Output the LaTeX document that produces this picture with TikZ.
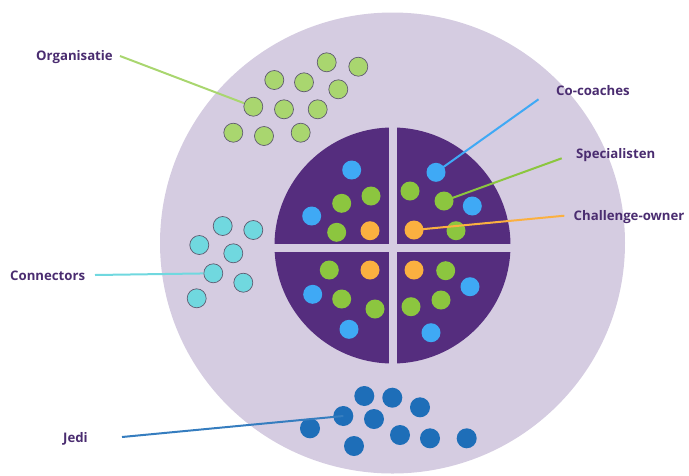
\documentclass[tikz,border=0pt]{standalone}
\usepackage{fontspec}
\setmainfont{Open Sans}
\definecolor{lav}{HTML}{D5CCE1}
\definecolor{deep}{HTML}{552D7E}
\definecolor{labc}{HTML}{4A2C70}
\definecolor{cblue}{HTML}{3FA9F5}
\definecolor{cgreen}{HTML}{8CC63F}
\definecolor{corange}{HTML}{FBB040}
\definecolor{orgc}{HTML}{A9D66F}
\definecolor{conc}{HTML}{70D8DF}
\definecolor{jedic}{HTML}{1E6EB8}
\definecolor{dotline}{HTML}{5F5A70}
\begin{document}
\begin{tikzpicture}[x=1pt,y=-1pt,
  lab/.style={anchor=base west,inner sep=0pt,text=labc,font=\fontsize{13.2}{15}\selectfont\bfseries},
  dotb/.style={circle,inner sep=0pt,minimum size=19pt},
  orgdot/.style={dotb,fill=orgc,draw=dotline,line width=0.7pt},
  condot/.style={dotb,fill=conc,draw=dotline,line width=0.7pt},
  jedidot/.style={dotb,fill=jedic,minimum size=20pt},
  bdot/.style={dotb,fill=cblue},
  gdot/.style={dotb,fill=cgreen},
  odot/.style={dotb,fill=corange},
  conn/.style={line width=2pt}]
\useasboundingbox (0,0) rectangle (689,475);
\begin{scope}
\clip (0,0) rectangle (689,475);
\fill[lav] (392.5,243) ellipse [x radius=232.5pt, y radius=230.5pt];
\end{scope}
\fill[deep] (392.5,245.5) circle [radius=118pt];
\fill[lav] (270,243.5) rectangle (515,251.5);
\fill[lav] (388.5,120) rectangle (396.5,370);

% Organisatie dots
\node[orgdot] (o1) at (326.7,62.3) {};
\node[orgdot] (o2) at (358.3,66.7) {};
\node[orgdot] (o3) at (274.3,80) {};
\node[orgdot] (o4) at (304,82.3) {};
\node[orgdot] (o5) at (338.3,89.3) {};
\node[orgdot] (o6) at (253.3,106.7) {};
\node[orgdot] (o7) at (284,109.3) {};
\node[orgdot] (o8) at (317.7,109.3) {};
\node[orgdot] (o9) at (233.3,132.7) {};
\node[orgdot] (o10) at (264,136) {};
\node[orgdot] (o11) at (300.7,132.7) {};

% Connectors dots
\node[condot] (c1) at (222.7,226) {};
\node[condot] (c2) at (253.3,230) {};
\node[condot] (c3) at (199.3,245) {};
\node[condot] (c4) at (233.3,253.3) {};
\node[condot] (c5) at (213.3,273.3) {};
\node[condot] (c6) at (243.3,282.7) {};
\node[condot] (c7) at (196.7,298.3) {};

% Jedi dots
\node[jedidot] (j1) at (364.3,396) {};
\node[jedidot] (j2) at (392.3,397.7) {};
\node[jedidot] (j3) at (420,407.3) {};
\node[jedidot] (j4) at (343.3,416) {};
\node[jedidot] (j5) at (374,419) {};
\node[jedidot] (j6) at (310,428.3) {};
\node[jedidot] (j7) at (400,435) {};
\node[jedidot] (j8) at (430,438.3) {};
\node[jedidot] (j9) at (466.7,438.3) {};
\node[jedidot] (j10) at (354,446) {};

% top-left quadrant
\node[bdot] (a1) at (351.7,170) {};
\node[gdot] (a2) at (371,196) {};
\node[gdot] (a3) at (341.7,203.3) {};
\node[bdot] (a4) at (311.7,216) {};
\node[gdot] (a5) at (336.7,232.3) {};
\node[odot] (a6) at (370,230.7) {};
% top-right quadrant
\node[bdot] (b1) at (436,172.3) {};
\node[gdot] (b2) at (410,191) {};
\node[gdot] (b3) at (444,201) {};
\node[bdot] (b4) at (472.3,206) {};
\node[odot] (b5) at (414,230) {};
\node[gdot] (b6) at (456,230.7) {};
% bottom-left quadrant
\node[gdot] (d1) at (329.3,270) {};
\node[odot] (d2) at (370,270) {};
\node[bdot] (d3) at (312.7,294.3) {};
\node[gdot] (d4) at (341.7,299) {};
\node[gdot] (d5) at (375,309) {};
\node[bdot] (d6) at (349,329.3) {};
% bottom-right quadrant
\node[odot] (e1) at (414,270) {};
\node[gdot] (e2) at (445.7,270.7) {};
\node[bdot] (e3) at (470,286.7) {};
\node[gdot] (e4) at (441,300) {};
\node[gdot] (e5) at (411,306.7) {};
\node[bdot] (e6) at (431,332.7) {};

% labels
\node[lab] (lorg) at (36,60) {Organisatie};
\node[lab] (lcon) at (10,280) {Connectors};
\node[lab] (ljedi) at (63,442) {Jedi};
\node[lab] (lco) at (556,95.5) {Co-coaches};
\node[lab] (lspec) at (576,158) {Specialisten};
\node[lab] (lch) at (573.5,220.5) {Challenge-owner};

\coordinate (korg) at (120,56);
\coordinate (kcon) at (95,275);
\coordinate (kjedi) at (122,437);
\coordinate (kco) at (538.5,99.3);
\coordinate (kspec) at (561.7,158.3);
\coordinate (kch) at (564.3,215.7);

\draw[conn,draw=orgc] (korg) -- (o6);
\draw[conn,draw=conc] (kcon) -- (c5);
\draw[conn,draw=jedic!90!white] (kjedi) -- (j4.center);
\draw[conn,draw=cblue] (kco) -- (b1.center);
\draw[conn,draw=cgreen] (kspec) -- (b3.center);
\draw[conn,draw=corange] (kch) -- (b5.center);
\end{tikzpicture}
\end{document}
